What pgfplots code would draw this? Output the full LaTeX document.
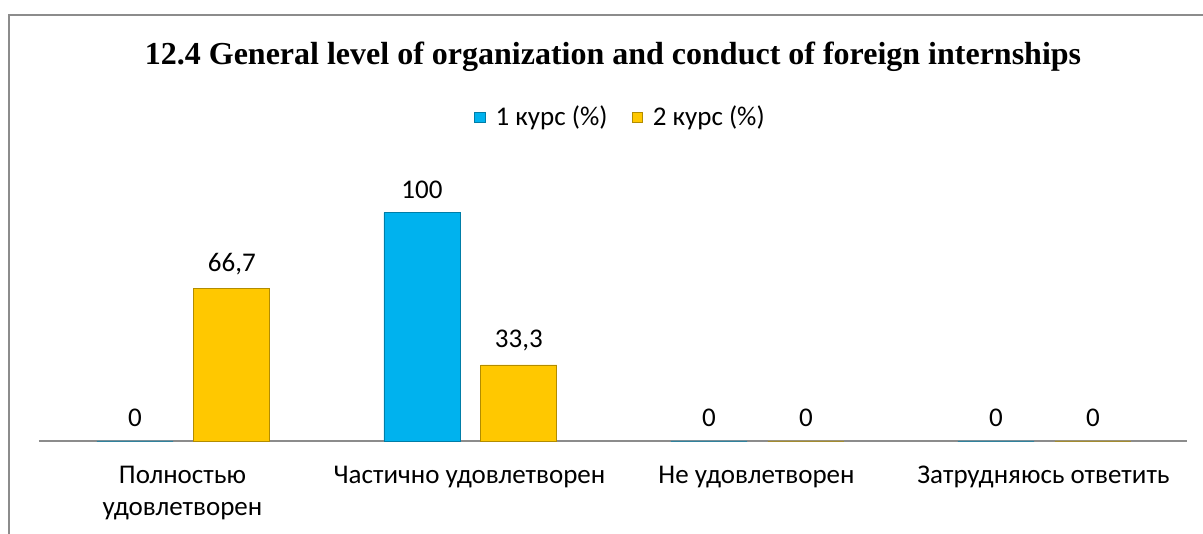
\documentclass[border=0pt]{standalone}
\usepackage{pgfplots}
\pgfplotsset{compat=1.18}
\usepackage{fontspec}
\setmainfont{Carlito}
\newfontfamily\titlefont{Liberation Serif}
\definecolor{barblue}{HTML}{00B2EE}
\definecolor{baryellow}{HTML}{FFC800}
\definecolor{frame}{HTML}{8C8C8C}
\begin{document}
\begin{tikzpicture}
\useasboundingbox (0,0) rectangle (601.5pt,267pt);
\fill[white] (0,0) rectangle (601.5pt,267pt);
\draw[frame, line width=1pt] (4.5pt,0) -- (4.5pt,259.5pt) -- (601.5pt,259.5pt);
\node[anchor=base, font=\titlefont\bfseries\fontsize{16}{19}\selectfont] at (306.5pt,234.5pt) {12.4 General level of organization and conduct of foreign internships};
\begin{axis}[
  at={(19.5pt,46.5pt)}, anchor=south west,
  scale only axis, width=574pt, height=137pt,
  xmin=-0.5, xmax=3.5, ymin=0, ymax=120,
  hide y axis,
  axis x line*=bottom,
  x axis line style={frame, line width=1pt, -},
  major tick length=0pt,
  xtick={0,1,2,3},
  xticklabels={{\strut Полностью\\удовлетворен},{\strut Частично удовлетворен},{\strut Не удовлетворен},{\strut Затрудняюсь ответить}},
  xticklabel style={align=center, anchor=north, yshift=-6.3pt, font=\fontsize{13.5}{16}\selectfont},
  ybar, bar width=0.265,
  /pgf/number format/.cd, use comma, fixed, precision=1, assume math mode=true, /pgfplots/.cd,
  nodes near coords,
  nodes near coords style={anchor=south, yshift=3.5pt, font=\fontsize{13.5}{16}\selectfont, text=black},
  legend style={at={(0.5,1.182)}, xshift=4.25pt, anchor=center, draw=none, fill=none, legend columns=2, font=\fontsize{13.5}{16}\selectfont, /tikz/every even column/.append style={column sep=10pt}},
  legend image code/.code={\draw[#1] (0cm,-0.09cm) rectangle (0.18cm,0.09cm); \path (0.29cm,0);},
  clip=false,
]
\addplot[fill=barblue, draw=barblue!70!black, bar shift=-0.1655] coordinates {(0,0) (1,100) (2,0) (3,0)};
\addplot[fill=baryellow, draw=baryellow!70!black, bar shift=0.172] coordinates {(0,66.7) (1,33.3) (2,0) (3,0)};
\legend{1 курс (\%), 2 курс (\%)}
\end{axis}
\end{tikzpicture}
\end{document}
